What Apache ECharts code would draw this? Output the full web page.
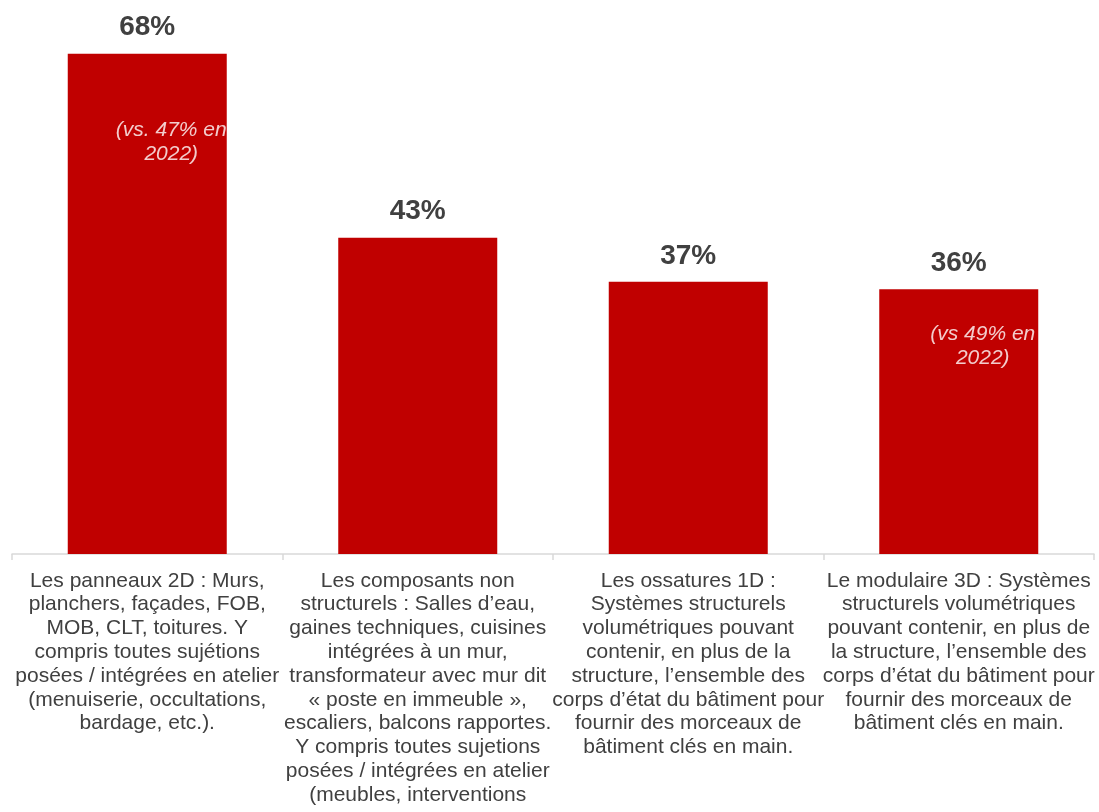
<!DOCTYPE html>
<html><head><meta charset="utf-8">
<script src="https://cdn.jsdelivr.net/npm/echarts@6/dist/echarts.min.js"></script>
<style>html,body{margin:0;padding:0;background:#fff}#c{width:1099px;height:812px}</style>
</head><body><div id="c"></div>
<script>
const categories = [
  "Les panneaux 2D : Murs,\nplanchers, façades, FOB,\nMOB, CLT, toitures. Y\ncompris toutes sujétions\nposées / intégrées en atelier\n(menuiserie, occultations,\nbardage, etc.).",
  "Les composants non\nstructurels : Salles d’eau,\ngaines techniques, cuisines\nintégrées à un mur,\ntransformateur avec mur dit\n« poste en immeuble »,\nescaliers, balcons rapportes.\nY compris toutes sujetions\nposées / intégrées en atelier\n(meubles, interventions",
  "Les ossatures 1D :\nSystèmes structurels\nvolumétriques pouvant\ncontenir, en plus de la\nstructure, l’ensemble des\ncorps d’état du bâtiment pour\nfournir des morceaux de\nbâtiment clés en main.",
  "Le modulaire 3D : Systèmes\nstructurels volumétriques\npouvant contenir, en plus de\nla structure, l’ensemble des\ncorps d’état du bâtiment pour\nfournir des morceaux de\nbâtiment clés en main."
];
const values = [68, 43, 37, 36];
const notes = ["(vs. 47% en\n2022)", "", "", "(vs 49% en\n2022)"];
const noteLevels = [56, null, null, 28.3];

const chart = echarts.init(document.getElementById('c'));
chart.setOption({
  animation: false,
  grid: {left: 12, right: 5, top: 39, bottom: 258, containLabel: false, outerBoundsMode: 'none'},
  xAxis: {
    type: 'category', data: categories,
    axisLine: {lineStyle: {color: '#d9d9d9', width: 1.5}},
    axisTick: {show: true, length: 6, lineStyle: {color: '#d9d9d9', width: 1.5}},
    axisLabel: {interval: 0, margin: 15, color: '#404040', fontSize: 21, lineHeight: 23.8,
      fontFamily: 'Liberation Sans, Arial, sans-serif', align: 'center'}
  },
  yAxis: {type: 'value', min: 0, max: 70, show: false, splitLine: {show: false}},
  series: [{
    type: 'bar', data: values, barWidth: 159,
    itemStyle: {color: '#C00000'},
    label: {show: true, position: 'top', distance: 12, formatter: '{c}%',
      color: '#404040', fontSize: 28, fontWeight: 'bold', fontFamily: 'Liberation Sans, Arial, sans-serif'}
  }, {
    type: 'scatter', symbolSize: 0, silent: true, z: 5,
    data: noteLevels.map((v, i) => v == null ? null : {value: [i, v], note: notes[i]}),
    label: {show: true, position: 'inside', offset: [24, 0],
      formatter: p => p.data.note,
      color: '#ffffff', fontSize: 21, fontStyle: 'italic', lineHeight: 24,
      fontFamily: 'Liberation Sans, Arial, sans-serif', align: 'center'}
  }]
});
</script></body></html>
